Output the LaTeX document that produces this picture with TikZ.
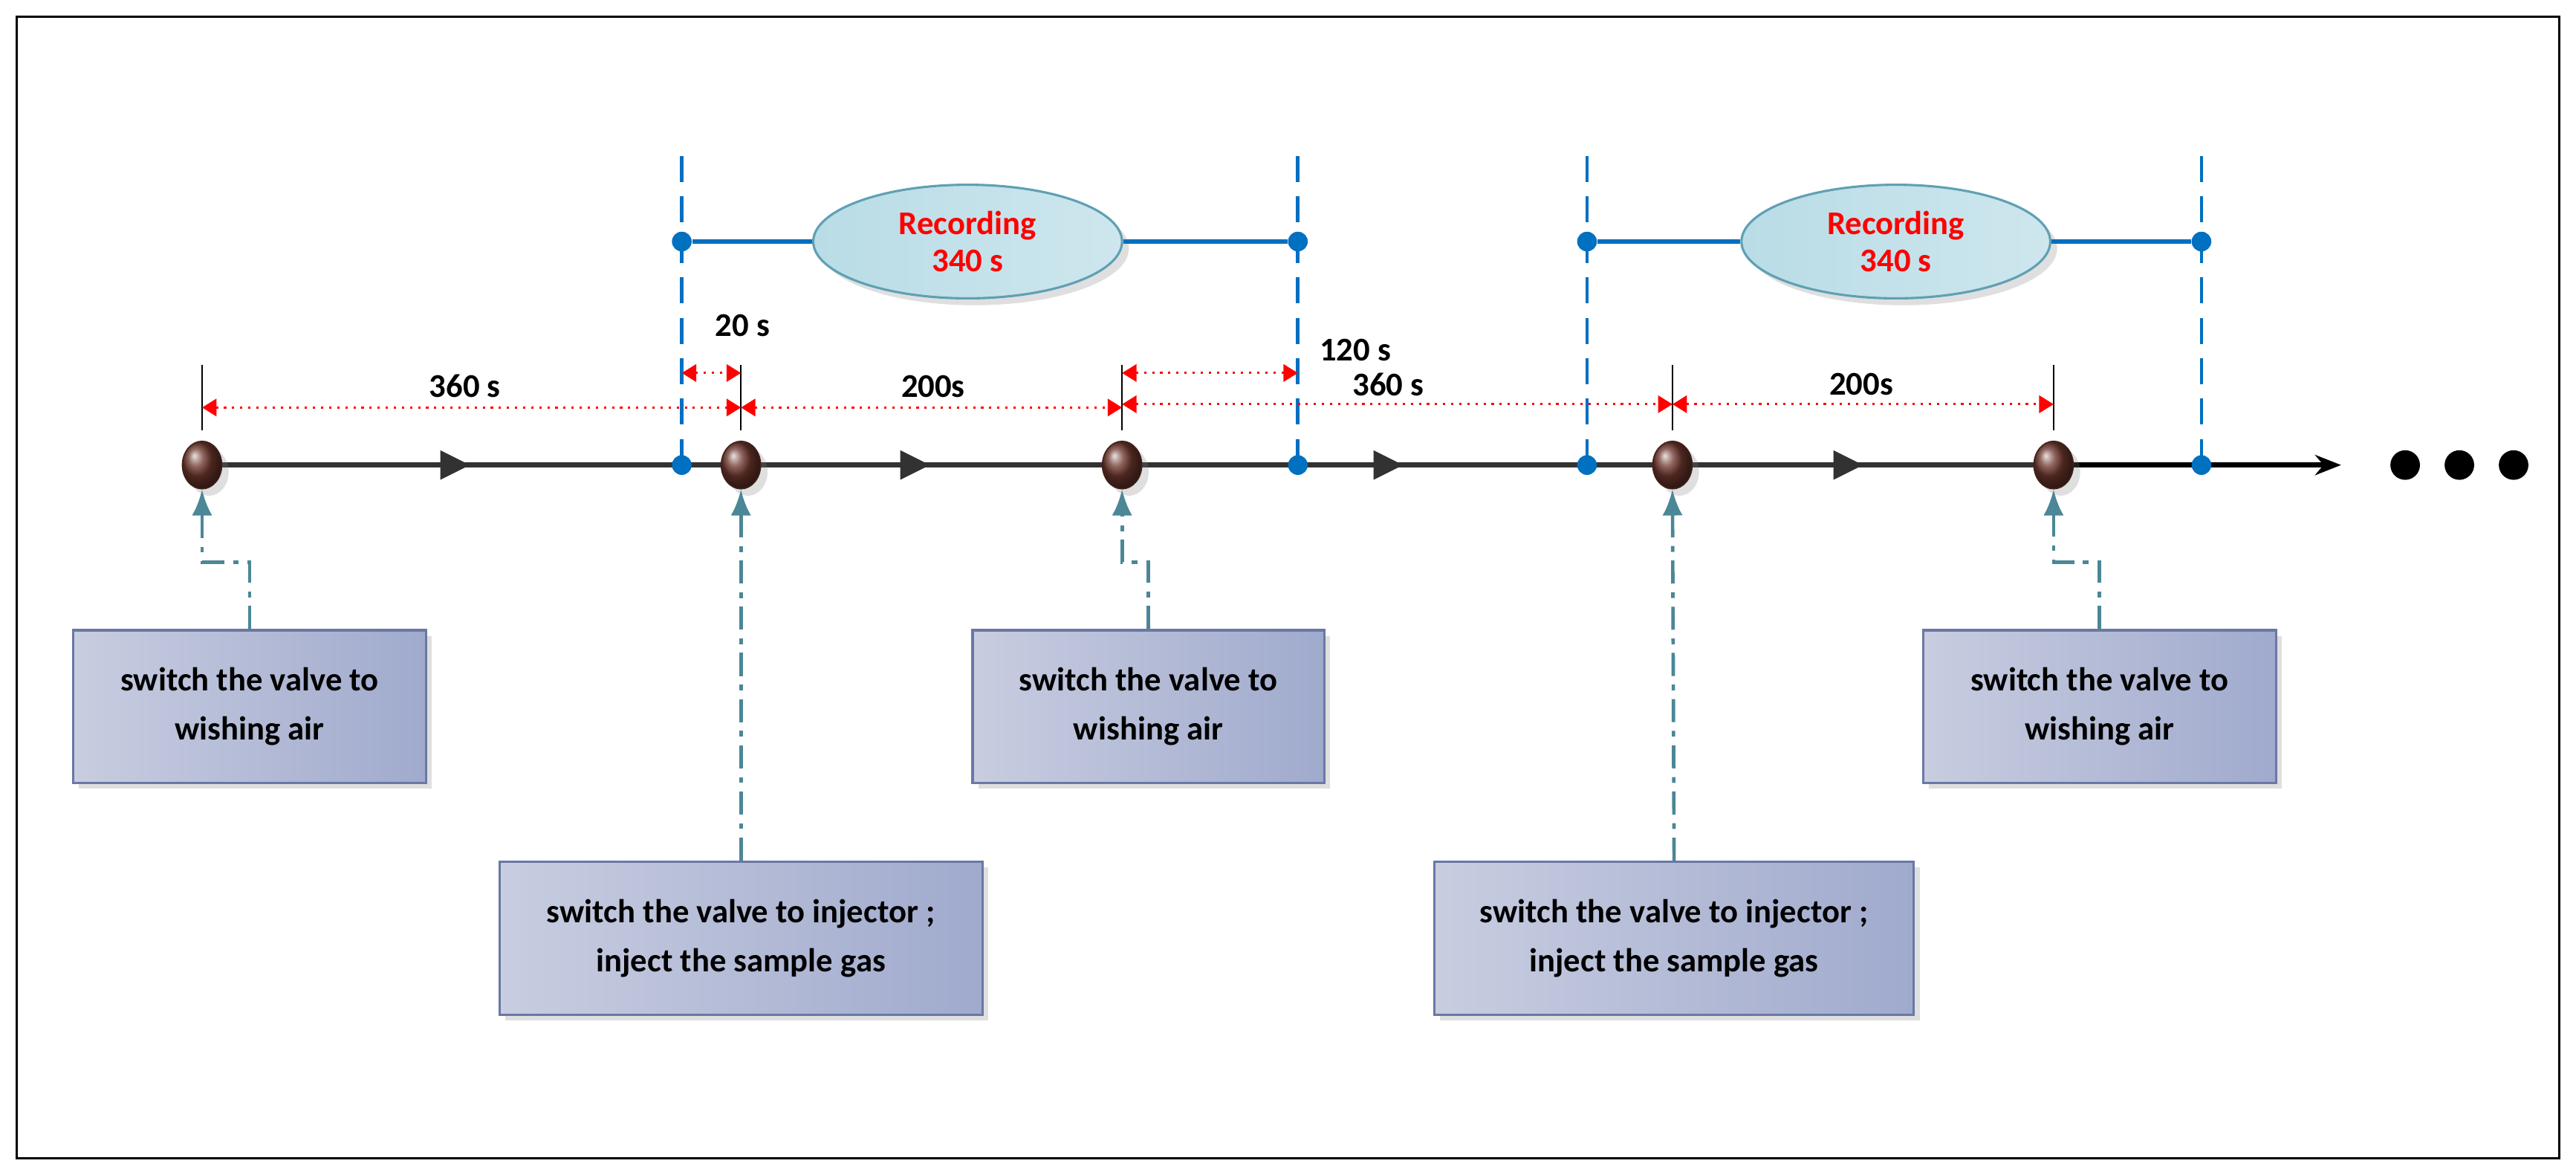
\documentclass[tikz,border=0pt]{standalone}
\usepackage{fontspec}
\setmainfont{Carlito}
\usetikzlibrary{arrows.meta,shapes.geometric,shadows}
\definecolor{axis}{RGB}{50, 50, 50}
\definecolor{mblue}{RGB}{0, 112, 192}
\definecolor{ball}{RGB}{110, 55, 45}
\definecolor{link}{RGB}{75, 135, 150}
\definecolor{boxl}{RGB}{200, 205, 224}
\definecolor{boxr}{RGB}{160, 170, 205}
\definecolor{boxd}{RGB}{105, 120, 165}
\definecolor{recf}{RGB}{185, 220, 230}
\definecolor{recd}{RGB}{95, 160, 180}

\tikzset{
  event/.style={ellipse, minimum width=0.48cm, minimum height=0.58cm, inner sep=0pt,
    draw=ball!60!black, ball color=ball, drop shadow={opacity=0.25}},
  dot/.style={circle, fill=mblue, minimum size=0.24cm, inner sep=0pt},
  note/.style={rectangle, draw=boxd, thick, left color=boxl, right color=boxr,
    minimum height=1.86cm, align=center, font=\bfseries\fontsize{11.5}{17}\selectfont,
    drop shadow={opacity=0.25, shadow xshift=0.07cm, shadow yshift=-0.07cm}},
  rec/.style={ellipse, draw=recd, thick, left color=recf, right color=recf!70!white,
    minimum width=3.76cm, minimum height=1.24cm, align=center, text=red,
    font=\bfseries\fontsize{11.5}{13}\selectfont, drop shadow={opacity=0.25}},
  vline/.style={mblue, line width=1.2pt, dash pattern=on 9pt off 5pt},
  span/.style={red, thick, dotted, {Triangle[length=5pt,width=6pt]}-{Triangle[length=5pt,width=6pt]}},
  tick/.style={black, thin},
  pull/.style={link, very thick, dash pattern=on 8pt off 3pt on 2pt off 3pt, -{Latex[length=9pt,width=7pt]}},
  lbl/.style={font=\bfseries\fontsize{11.5}{13}\selectfont},
  head/.style={fill=axis}
}

\begin{document}
\begin{tikzpicture}[x=0.02cm, y=-0.02cm]
  \useasboundingbox (0,0) rectangle (1568,715);
  \draw[black, thick] (10,10) rectangle (1558,705);

  % blue markers
  \foreach \n/\x in {m1/415, m2/790, m3/966, m4/1340} {
    \draw[vline] (\x,95) -- (\x,283);
    \node[dot] (\n t) at (\x,147) {};
  }
  \node[rec] (r1) at (589,147) {Recording\\340 s};
  \node[rec] (r2) at (1154,147) {Recording\\340 s};
  \draw[mblue, line width=1.4pt] (m1t) -- (r1) -- (m2t);
  \draw[mblue, line width=1.4pt] (m3t) -- (r2) -- (m4t);

  % time axis
  \foreach \n/\x in {e1/123, e2/451, e3/683, e4/1018, e5/1250} {
    \coordinate (\n) at (\x,283);
    \draw[tick] (\x,222) -- (\x,262);
  }
  \coordinate (end) at (1425,283);
  \draw[axis, line width=1.8pt] (e1) -- (e5);
  \draw[black, line width=1.8pt, -{Stealth[length=9pt,width=7pt]}] (e5) -- (end);
  \foreach \x in {277, 557, 845, 1125}
    \fill[head] (\x+9,283) -- (\x-9,274) -- (\x-9,292) -- cycle;
  \foreach \n/\x in {e1/123, e2/451, e3/683, e4/1018, e5/1250}
    \node[event] (\n b) at (\x,283) {};
  \foreach \n/\x in {m1/415, m2/790, m3/966, m4/1340}
    \node[dot] (\n) at (\x,283) {};
  \foreach \n/\x in {k1/1464, k2/1497, k3/1530}
    \node[circle, fill=black, minimum size=0.36cm, inner sep=0pt] (\n) at (\x,283) {};

  % spans
  \draw[span] (123,248) coordinate (s1) -- (451,248) coordinate (s2);
  \draw[span] (s2) -- (683,248) coordinate (s3);
  \draw[span] (683,246) coordinate (s4) -- (1018,246) coordinate (s5);
  \draw[span] (s5) -- (1250,246) coordinate (s6);
  \draw[span] (415,227) coordinate (s7) -- (451,227) coordinate (s8);
  \draw[span] (683,227) coordinate (s9) -- (790,227) coordinate (s10);
  \node[lbl] (t1) at (283,235) {360 s};
  \node[lbl] (t2) at (568,235) {200s};
  \node[lbl] (t3) at (452,198) {20 s};
  \node[lbl] (t4) at (825,213) {120 s};
  \node[lbl] (t5) at (845,234) {360 s};
  \node[lbl] (t6) at (1133,234) {200s};

  % notes
  \node[note, minimum width=4.3cm] (n1) at (152,430) {switch the valve to\\wishing air};
  \node[note, minimum width=5.88cm] (n2) at (451,571) {switch the valve to injector ;\\inject the sample gas};
  \node[note, minimum width=4.28cm] (n3) at (699,430) {switch the valve to\\wishing air};
  \node[note, minimum width=5.84cm] (n4) at (1019,571) {switch the valve to injector ;\\inject the sample gas};
  \node[note, minimum width=4.3cm] (n5) at (1278,430) {switch the valve to\\wishing air};

  \draw[pull] (n1.north) -- (152,342) -- (123,342) -- (e1b.south);
  \draw[pull] (n2.north) -- (e2b.south);
  \draw[pull] (n3.north) -- (699,342) -- (683,342) -- (e3b.south);
  \draw[pull] (n4.north) -- (e4b.south);
  \draw[pull] (n5.north) -- (1278,342) -- (1250,342) -- (e5b.south);
\end{tikzpicture}
\end{document}
